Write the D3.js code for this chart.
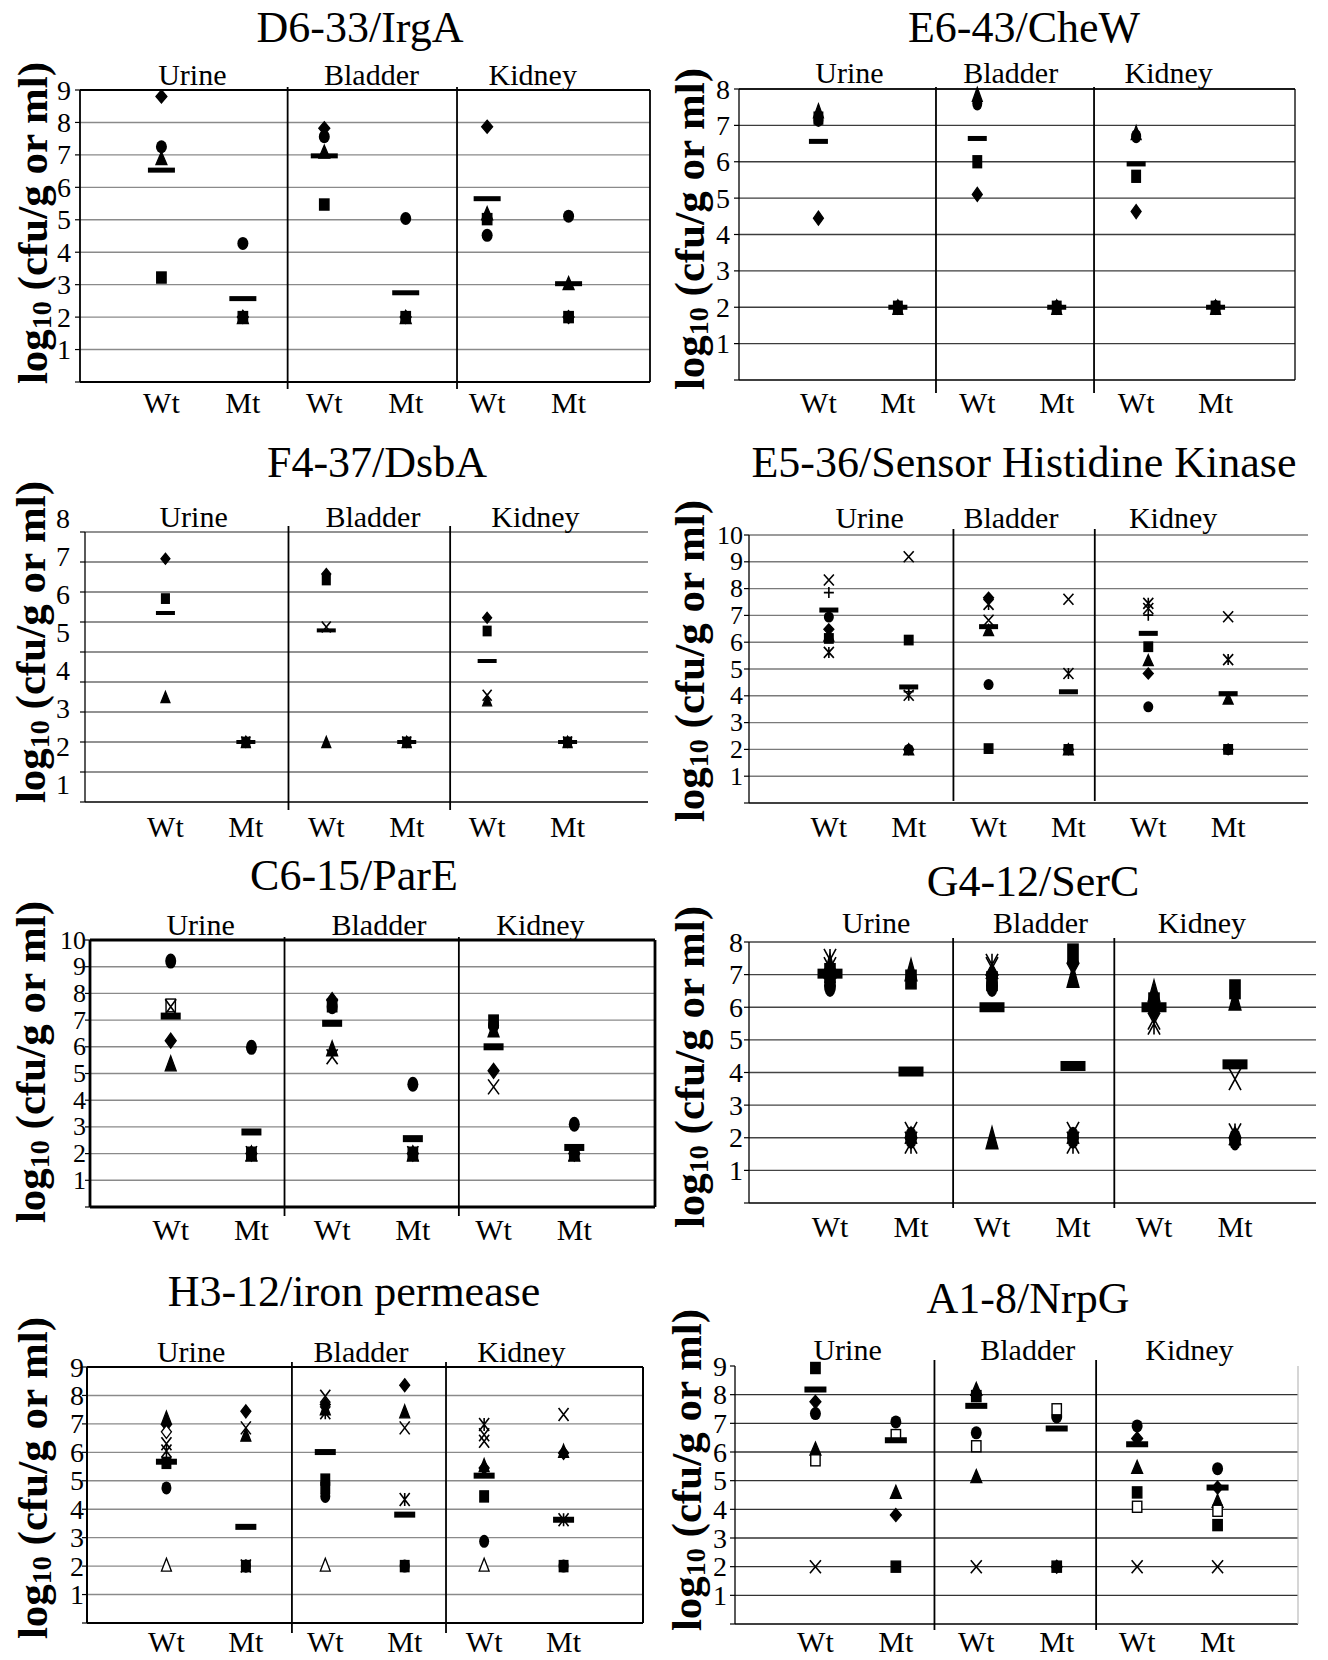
<!DOCTYPE html>
<html lang="en">
<head>
<meta charset="utf-8">
<title>Colonisation panels</title>
<script src="https://cdn.jsdelivr.net/npm/d3@7"></script>
<style>
  body { margin: 0; background: #fff; }
  svg { display: block; font-family: "Liberation Serif", "Times New Roman", serif; }
</style>
</head>
<body>
<script>
// x categories, shared by every panel
let groups = ["Wt", "Mt", "Wt", "Mt", "Wt", "Mt"];
let organs = ["Urine", "Bladder", "Kidney"];

// each row = one mouse: Urine Wt, Urine Mt, Bladder Wt, Bladder Mt, Kidney Wt, Kidney Mt
let irgaMice = [
  [8.8, 2, 7.82, 2, 7.87, 2],
  [3.22, 2, 5.47, 2, 5.02, 2],
  [6.9, 2, 7.1, 2, 5.2, 3.05],
  [7.25, 4.27, 7.56, 5.04, 4.52, 5.11]
];
let irgaMarks = ["diamond", "square", "triangle", "circle"];
let irgaMean = [6.53, 2.57, 6.97, 2.75, 5.65, 3.03];

let chewMice = [
  [4.45, 2, 5.1, 2, 4.63, 2],
  [7.2, 2, 6.0, 2, 5.6, 2],
  [7.4, 2, 7.85, 2, 6.8, 2],
  [7.15, 2, 7.6, 2, 6.7, 2]
];
let chewMarks = ["diamond", "square", "triangle", "circle"];
let chewMean = [6.56, 2, 6.64, 2, 5.94, 2];

let dsbaMice = [
  [8.11, 2, 7.6, 2, 6.14, 2],
  [6.78, 2, 7.4, 2, 5.7, 2],
  [3.5, 2, 2, 2, 3.39, 2],
  [null, 2, 5.83, 2, 3.56, 2]
];
let dsbaMarks = ["diamond", "square", "triangle", "x"];
let dsbaMean = [6.3, 2, 5.72, 2, 4.7, 2];

let sensorMice = [
  [6.48, 2, 7.66, 2, 4.83, 2],
  [6.14, 6.08, 2.03, 2, 5.83, 2],
  [6.25, 2, 6.45, 2, 5.33, 3.9],
  [8.32, 9.19, 6.82, 7.6, 7.26, 6.95],
  [5.62, 4.02, 7.41, 4.83, 7.45, 5.35],
  [6.94, 2, 4.42, 2, 3.59, 2],
  [7.85, 4.15, null, null, 7.01, null]
];
let sensorMarks = ["diamond", "square", "triangle", "x", "asterisk", "circle", "plus"];
let sensorMean = [7.2, 4.33, 6.58, 4.15, 6.33, 4.08];

let pareMice = [
  [6.23, 2, 7.75, 2, 5.1, 2],
  [null, 2, 7.55, 2, 6.95, 2],
  [5.38, 2, 5.94, 2, 6.65, 2],
  [7.55, null, null, null, null, null],
  [7.5, 2, 5.63, 2, 4.5, 2],
  [9.21, 5.98, 7.5, 4.6, 6.8, 3.1]
];
let pareMarks = ["diamond", "square", "triangle", "openSquare", "x", "circle"];
let pareMean = [7.15, 2.81, 6.88, 2.56, 6.0, 2.23];

let sercMice = [
  [6.95, 2.0, 7.0, 7.35, 5.9, 2.0],
  [7.05, 6.85, 6.8, 7.65, 6.15, 6.55],
  [7.3, 7.15, 2.0, 6.95, 6.5, 6.25],
  [7.2, 2.15, 7.2, 2.15, 5.65, 3.8],
  [7.45, 1.85, 7.3, 1.85, 5.5, 2.1],
  [6.65, 2.0, 6.65, 2.0, 6.0, 1.95]
];
let sercMarks = ["diamond", "square", "triangle", "x", "asterisk", "circle"];
let sercMean = [7.03, 4.03, 6.0, 4.2, 6.0, 4.25];

let ironMice = [
  [6.98, 7.44, 7.68, 8.36, 5.45, 5.98],
  [5.63, 2, 5.04, 2, 4.45, 2],
  [7.22, 6.62, 7.55, 7.44, 5.55, 6.05],
  [6.3, 6.86, 7.97, 6.86, 6.62, 7.33],
  [6.05, 2, 7.39, 4.34, 6.98, 3.63],
  [4.75, 2, 4.45, 2, 2.87, 2],
  [6.72, null, null, null, null, null],
  [null, null, 4.75, null, null, null],
  [null, null, null, null, 6.39, null],
  [2.05, null, 2.05, null, 2.05, null]
];
let ironMarks = ["diamond", "square", "triangle", "x", "asterisk", "circle", "openDiamond", "square", "x", "openTriangle"];
let ironMean = [5.67, 3.38, 6.01, 3.81, 5.18, 3.63];

let nrpgMice = [
  [7.75, 3.8, 8.0, 2, 6.47, 4.76],
  [8.93, 2, 7.95, 2, 4.59, 3.45],
  [6.12, 4.61, 8.2, null, 5.48, 4.3],
  [2, null, 2, null, 2, 2],
  [7.34, 7.05, 6.67, 7.22, 6.91, 5.42],
  [5.71, 6.59, 6.2, 7.49, 4.09, 3.95],
  [null, null, 5.16, null, null, null]
];
let nrpgMarks = ["diamond", "square", "triangle", "x", "circle", "openSquare", "triangle"];
let nrpgMean = [8.18, 6.41, 7.61, 6.82, 6.27, 4.76];

let panels = [
  { title: "D6-33/IrgA", mice: irgaMice, marks: irgaMarks, mean: irgaMean, ymax: 9,
    L: 80, R: 650, T: 90, B: 382, div: [2.55, 4.63], divEx: [3, 7], org: [1.38, 3.58, 5.56],
    tx: 360, ty: 42, oy: 85, cy: 413, ax: 32, ay: 223, gap: 9, fs: 28,
    mw: 11, mh: 13, bw: 27, bh: 5, grid: "#8a8a8a", frame: "box", fw: 1.8 },
  { title: "E6-43/CheW", mice: chewMice, marks: chewMarks, mean: chewMean, ymax: 8,
    L: 739, R: 1295, T: 89, B: 380, div: [2.48, 4.47], divEx: [2, 13], org: [1.39, 3.42, 5.41],
    tx: 1024, ty: 42, oy: 83, cy: 413, ax: 689, ay: 229, gap: 9, fs: 28,
    mw: 10, mh: 14, bw: 19, bh: 5, grid: "#3c3c3c", frame: "box", fw: 1.3 },
  { title: "F4-37/DsbA", mice: dsbaMice, marks: dsbaMarks, mean: dsbaMean, ymax: 9,
    L: 85, R: 648, T: 532, B: 802, div: [2.53, 4.54], divEx: [6, 8], org: [1.35, 3.58, 5.6],
    tx: 377, ty: 477, oy: 527, cy: 837, ax: 30, ay: 642, gap: 15, fs: 28,
    labels: 8, labelAt: [0.6, 9.45],
    mw: 9, mh: 11, bw: 19, bh: 4, grid: "#6e6e6e", frame: "open", fw: 1.3 },
  { title: "E5-36/Sensor Histidine Kinase", mice: sensorMice, marks: sensorMarks, mean: sensorMean, ymax: 10,
    L: 749, R: 1308, T: 535, B: 803, div: [2.56, 4.33], divEx: [6, -2], org: [1.51, 3.28, 5.31],
    tx: 1024, ty: 477, oy: 528, cy: 837, ax: 689, ay: 661, gap: 6, fs: 26,
    mw: 10, mh: 11, bw: 19, bh: 5, grid: "#7a7a7a", frame: "open", fw: 1.3 },
  { title: "C6-15/ParE", mice: pareMice, marks: pareMarks, mean: pareMean, ymax: 10,
    L: 90, R: 655, T: 940, B: 1207, div: [2.41, 4.57], divEx: [3, 9], org: [1.37, 3.58, 5.58],
    tx: 354, ty: 890, oy: 935, cy: 1240, ax: 30, ay: 1062, gap: 4, fs: 26,
    mw: 11, mh: 15, bw: 20, bh: 7, grid: "#8a8a8a", frame: "box", fw: 2.8 },
  { title: "G4-12/SerC", mice: sercMice, marks: sercMarks, mean: sercMean, ymax: 8,
    L: 749, R: 1316, T: 942, B: 1203, div: [2.52, 4.51], divEx: [4, 5], org: [1.57, 3.6, 5.59],
    tx: 1033, ty: 896, oy: 933, cy: 1237, ax: 689, ay: 1067, gap: 6, fs: 28,
    mw: 12, mh: 22, bw: 25, bh: 10, grid: "#444", frame: "open", fw: 1.3 },
  { title: "H3-12/iron permease", mice: ironMice, marks: ironMarks, mean: ironMean, ymax: 9,
    L: 87, R: 643, T: 1367, B: 1623, div: [2.58, 4.52], divEx: [5, 10], org: [1.31, 3.45, 5.47],
    tx: 354, ty: 1306, oy: 1362, cy: 1652, ax: 32, ay: 1478, gap: 3, fs: 28,
    mw: 10, mh: 13, bw: 21, bh: 6, grid: "#8a8a8a", frame: "box", fw: 2 },
  { title: "A1-8/NrpG", mice: nrpgMice, marks: nrpgMarks, mean: nrpgMean, ymax: 9, gridTop: 8,
    L: 735, R: 1298, T: 1366, B: 1624, div: [2.48, 4.49], divEx: [6, 6], org: [1.4, 3.64, 5.65],
    tx: 1028, ty: 1313, oy: 1360, cy: 1652, ax: 686, ay: 1470, gap: 8, fs: 28,
    mw: 11, mh: 13, bw: 22, bh: 6, grid: "#333", frame: "side", fw: 1.3 }
];

let W = 1328, H = 1660;
let svg = d3.select("body").append("svg").attr("width", W).attr("height", H);

function mark(g, shape, cx, cy, w, h) {
  let k = "#000";
  if (shape == "diamond" || shape == "openDiamond") {
    g.append("path")
      .attr("d", `M${cx},${cy - h / 2}L${cx + w / 2},${cy}L${cx},${cy + h / 2}L${cx - w / 2},${cy}Z`)
      .attr("fill", shape == "diamond" ? k : "#fff").attr("stroke", k).attr("stroke-width", 1.3);
  } else if (shape == "square" || shape == "openSquare") {
    let sw = w * 0.85, sh = h * 0.85;
    g.append("rect").attr("x", cx - sw / 2).attr("y", cy - sh / 2).attr("width", sw).attr("height", sh)
      .attr("fill", shape == "square" ? k : "#fff").attr("stroke", k).attr("stroke-width", 1.4);
  } else if (shape == "triangle" || shape == "openTriangle") {
    g.append("path")
      .attr("d", `M${cx},${cy - h / 2}L${cx + w / 2},${cy + h / 2}L${cx - w / 2},${cy + h / 2}Z`)
      .attr("fill", shape == "triangle" ? k : "#fff").attr("stroke", k).attr("stroke-width", 1.3);
  } else if (shape == "circle") {
    g.append("ellipse").attr("cx", cx).attr("cy", cy).attr("rx", w / 2).attr("ry", h / 2).attr("fill", k);
  } else {
    let p = "";
    if (shape == "x" || shape == "asterisk")
      p += `M${cx - w / 2},${cy - h / 2}L${cx + w / 2},${cy + h / 2}M${cx + w / 2},${cy - h / 2}L${cx - w / 2},${cy + h / 2}`;
    if (shape == "asterisk" || shape == "plus")
      p += `M${cx},${cy - h / 2}L${cx},${cy + h / 2}`;
    if (shape == "plus")
      p += `M${cx - w / 2},${cy}L${cx + w / 2},${cy}`;
    g.append("path").attr("d", p).attr("fill", "none").attr("stroke", k).attr("stroke-width", 1.6);
  }
}

panels.forEach(function(p) {
  let g = svg.append("g");
  let x = d3.scaleLinear().domain([0, 7]).range([p.L, p.R]);
  let y = d3.scaleLinear().domain([0, p.ymax]).range([p.B, p.T]);
  let gridTop = p.gridTop || p.ymax;

  // gridlines
  g.selectAll(".grid").data(d3.range(1, gridTop + 1)).enter().append("line")
    .attr("x1", p.L).attr("x2", p.R)
    .attr("y1", d => y(d)).attr("y2", d => y(d))
    .attr("stroke", p.grid).attr("stroke-width", 1.4);

  // frame
  let fw = p.fw;
  g.append("line").attr("x1", p.L).attr("x2", p.L).attr("y1", p.T).attr("y2", p.B)
    .attr("stroke", "#000").attr("stroke-width", fw);
  g.append("line").attr("x1", p.L).attr("x2", p.R).attr("y1", p.B).attr("y2", p.B)
    .attr("stroke", "#000").attr("stroke-width", fw);
  if (p.frame == "box") {
    g.append("line").attr("x1", p.L).attr("x2", p.R).attr("y1", p.T).attr("y2", p.T)
      .attr("stroke", "#000").attr("stroke-width", fw);
    g.append("line").attr("x1", p.R).attr("x2", p.R).attr("y1", p.T).attr("y2", p.B)
      .attr("stroke", "#000").attr("stroke-width", fw);
  } else if (p.frame == "side") {
    g.append("line").attr("x1", p.R).attr("x2", p.R).attr("y1", p.T).attr("y2", p.B)
      .attr("stroke", "#bbb").attr("stroke-width", 1.2);
  }

  // left axis ticks
  g.selectAll(".tk").data(d3.range(0, p.ymax + 1)).enter().append("line")
    .attr("x1", p.L - 5).attr("x2", p.L)
    .attr("y1", d => y(d)).attr("y2", d => y(d))
    .attr("stroke", "#000").attr("stroke-width", 1.2);

  // tick labels (one panel has labels pasted on a different spacing)
  let nLab = p.labels || p.ymax;
  let ly = p.labelAt
    ? d3.scaleLinear().domain([1, nLab]).range([y(p.labelAt[0]), y(p.labelAt[1])])
    : y;
  g.selectAll(".lab").data(d3.range(1, nLab + 1)).enter().append("text")
    .attr("x", p.L - p.gap).attr("y", d => ly(d))
    .attr("text-anchor", "end").attr("dominant-baseline", "central")
    .attr("font-size", p.fs).text(d => d);

  // organ dividers
  g.selectAll(".div").data(p.div).enter().append("line")
    .attr("x1", d => x(d)).attr("x2", d => x(d))
    .attr("y1", p.T - p.divEx[0]).attr("y2", p.B + p.divEx[1])
    .attr("stroke", "#000").attr("stroke-width", 1.8);

  // texts
  g.append("text").attr("x", p.tx).attr("y", p.ty).attr("text-anchor", "middle")
    .attr("font-size", 44).text(p.title);
  g.selectAll(".org").data(organs).enter().append("text")
    .attr("x", (d, i) => x(p.org[i])).attr("y", p.oy).attr("text-anchor", "middle")
    .attr("font-size", 30).text(d => d);
  g.selectAll(".cat").data(groups).enter().append("text")
    .attr("x", (d, i) => x(i + 1)).attr("y", p.cy).attr("text-anchor", "middle")
    .attr("font-size", 30).text(d => d);

  let yt = g.append("text")
    .attr("transform", `translate(${p.ax},${p.ay}) rotate(-90)`)
    .attr("text-anchor", "middle").attr("dominant-baseline", "central")
    .attr("font-size", 43).attr("font-weight", "bold");
  yt.append("tspan").text("log");
  yt.append("tspan").attr("font-size", 28).attr("dy", 9).text("10");
  yt.append("tspan").attr("dy", -9).text(" (cfu/g or ml)");

  // mice
  p.mice.forEach(function(row, s) {
    row.forEach(function(v, i) {
      if (v == null) return;
      mark(g, p.marks[s], x(i + 1), y(v), p.mw, p.mh);
    });
  });

  // mean bars
  g.selectAll(".mean").data(p.mean).enter().append("rect")
    .attr("x", (d, i) => x(i + 1) - p.bw / 2).attr("y", d => y(d) - p.bh / 2)
    .attr("width", p.bw).attr("height", p.bh).attr("fill", "#000");
});
</script>
</body>
</html>
